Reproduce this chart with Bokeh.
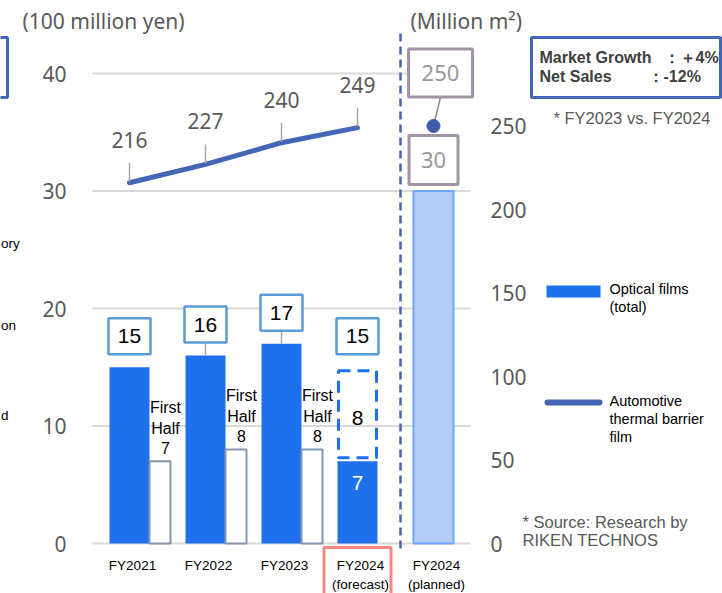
from bokeh.plotting import figure
from bokeh.models import Range1d, ColumnDataSource
from bokeh.core.properties import value
from bokeh.embed import file_html
from bokeh.resources import INLINE

# ---- data -------------------------------------------------------------
years = ["FY2021", "FY2022", "FY2023", "FY2024"]
x_labels = ["FY2021", "FY2022", "FY2023", "FY2024\n(forecast)", "FY2024\n(planned)"]
full_year_sales = [15, 16, 17, 15]          # 100 million yen
first_half_sales = [7, 8, 8]                # 100 million yen, FY2021-FY2023
forecast_first_half = 7                     # FY2024 H1 actual
forecast_second_half = 8                    # FY2024 H2 forecast
thermal_barrier = [216, 227, 240, 249]      # million m2
market_sales = 30                           # 100 million yen, FY2024 planned
market_area = 250                           # million m2, FY2024 planned
left_ticks = [0, 10, 20, 30, 40]
right_ticks = [0, 50, 100, 150, 200, 250]
leader_shown = [False, True, True, False]

# ---- layout helpers (pixel -> data) ----------------------------------
W, H = 722, 593
CAT0_PX, CAT_PX = 129.0, 76.0     # centre of first category, spacing
BASE_PX = 543.0                   # pixel row of the zero line
YEN_PX = 11.75                    # px per 1 (100 million yen)
AREA_PX = 83.5 / 50.0             # px per 1 million m2


def xd(px):
    return (px - CAT0_PX) / CAT_PX


def yl(py):
    return (BASE_PX - py) / YEN_PX


def yr(py):
    return (BASE_PX - py) / AREA_PX


def dl(px):
    return px / YEN_PX


def dr(px):
    return px / AREA_PX


BLUE = "#1f70ec"
LINE_BLUE = "#4466b6"
GRAY_TXT = "#595959"
SANS = value("Liberation Sans")
NUM = value("Noto Sans")

p = figure(width=W, height=H, x_range=Range1d(xd(0), xd(W)),
           y_range=Range1d(yl(H), yl(0)),
           x_axis_location=None, y_axis_location=None,
           toolbar_location=None, output_backend="svg", min_border=0)
p.extra_y_ranges = {"area": Range1d(yr(H), yr(0))}
p.grid.visible = False
p.outline_line_color = None
p.background_fill_color = "white"

n = len(years)
idx = list(range(n))

# grid lines
p.segment(x0=[-0.487] * len(left_ticks), x1=[4.487] * len(left_ticks),
          y0=left_ticks, y1=left_ticks, line_color="#d9d9d9", line_width=2)

# full-year bars FY2021-FY2023 and H1 actual of FY2024
full_src = ColumnDataSource(dict(x=idx[:3], top=full_year_sales[:3]))
p.vbar(x="x", top="top", bottom=0, width=40 / CAT_PX, source=full_src,
       fill_color=BLUE, line_color=None)
p.vbar(x=[3], top=[forecast_first_half], bottom=0, width=40 / CAT_PX,
       fill_color=BLUE, line_color=None)

# FY2024 H2 forecast (dashed outline)
gap = dl(3.5)
p.vbar(x=[3], bottom=[forecast_first_half + gap],
       top=[forecast_first_half + forecast_second_half - gap],
       width=38 / CAT_PX, fill_color=None, line_color=BLUE, line_width=3,
       line_dash="12 7")

# first-half bars
half_x = [i + 30.5 / CAT_PX for i in range(3)]
p.vbar(x=half_x, top=first_half_sales, bottom=0, width=21 / CAT_PX,
       fill_color="white", line_color="#8497b0", line_width=2)

# planned market bar
p.vbar(x=[4], top=[market_sales], bottom=0, width=40 / CAT_PX,
       fill_color="#b4cdf6", line_color="#6fa5f2", line_width=2)

# divider between company figures and market
p.segment(x0=[xd(400)], x1=[xd(400)], y0=[yl(548)], y1=[yl(32)],
          line_color=LINE_BLUE, line_width=2.5, line_dash="8 5")

# thermal barrier film line (right axis)
p.line(x=idx, y=thermal_barrier, y_range_name="area", line_color=LINE_BLUE,
       line_width=5, line_cap="round", line_join="round")
p.segment(x0=idx, x1=idx, y0=[v + dr(1) for v in thermal_barrier],
          y1=[v + dr(20) for v in thermal_barrier], y_range_name="area",
          line_color="#a6a6a6", line_width=1.5)
p.text(x=idx, y=[v + dr(43) for v in thermal_barrier],
       text=[str(v) for v in thermal_barrier], y_range_name="area",
       text_align="center", text_baseline="middle", text_font=NUM,
       text_font_size="21px", text_color=GRAY_TXT)

# value boxes for full-year sales
box_y = [v + dl(31) for v in full_year_sales]
lead_x = [i for i in idx if leader_shown[i]]
p.segment(x0=lead_x, x1=lead_x,
          y0=[full_year_sales[i] for i in lead_x],
          y1=[box_y[i] - dl(18) for i in lead_x],
          line_color="#a6a6a6", line_width=1.5)
p.rect(x=idx, y=box_y, width=42, height=36, width_units="screen",
       height_units="screen", fill_color="white", line_color="#5b9bd5",
       line_width=2.5)
p.text(x=idx, y=box_y, text=[str(v) for v in full_year_sales],
       text_align="center", text_baseline="middle", text_font=SANS,
       text_font_size="21px", text_color="black")

# first-half captions
p.text(x=[i + 36 / CAT_PX for i in range(3)],
       y=[v + dl(4) for v in first_half_sales],
       text=["First\nHalf\n%d" % v for v in first_half_sales],
       text_align="center", text_baseline="bottom", text_font=SANS,
       text_font_size="16px", text_line_height=1.22, text_color="black")

# FY2024 split labels
p.text(x=[3], y=[forecast_first_half - dl(22)], text=[str(forecast_first_half)],
       text_align="center", text_baseline="middle", text_font=SANS,
       text_font_size="21px", text_color="white")
p.text(x=[3], y=[forecast_first_half + forecast_second_half / 2 - dl(4)],
       text=[str(forecast_second_half)], text_align="center",
       text_baseline="middle", text_font=SANS, text_font_size="21px",
       text_color="black")

# market bar / point labels
MAUVE = "#a095a6"
mk_box_y = market_sales + dl(31)
p.rect(x=[4], y=[mk_box_y], width=49, height=49, width_units="screen",
       height_units="screen", fill_color="white", line_color=MAUVE,
       line_width=3)
p.text(x=[4], y=[mk_box_y], text=[str(market_sales)], text_align="center",
       text_baseline="middle", text_font=NUM, text_font_size="22px",
       text_color="#9a96a0")

area_box_x = 4 + 7 / CAT_PX
area_box_y = market_area + dr(53)
p.segment(x0=[4], x1=[area_box_x], y0=[market_area],
          y1=[area_box_y - dr(24)], y_range_name="area",
          line_color="#8c8c8c", line_width=1.5)
p.scatter(x=[4], y=[market_area], y_range_name="area", size=13,
          fill_color="#3f5cab", line_color="#3f5cab")
p.rect(x=[area_box_x], y=[area_box_y], width=64, height=48,
       width_units="screen", height_units="screen", y_range_name="area",
       fill_color="white", line_color=MAUVE, line_width=3)
p.text(x=[area_box_x], y=[area_box_y], text=[str(market_area)],
       y_range_name="area", text_align="center", text_baseline="middle",
       text_font=NUM, text_font_size="22px", text_color="#9a96a0")

# category labels and highlight
p.quad(left=[3 - 33.5 / CAT_PX], right=[3 + 33.5 / CAT_PX],
       top=[yl(547)], bottom=[yl(605)], fill_color=None,
       line_color="#ff8585", line_width=3)
p.text(x=[i + 3 / CAT_PX for i in range(len(x_labels))],
       y=[yl(557.5)] * len(x_labels), text=x_labels, text_align="center",
       text_baseline="top", text_font=SANS, text_font_size="13.5px",
       text_line_height=1.28, text_color="black")

# axis tick labels
p.text(x=[xd(66)] * len(left_ticks), y=left_ticks,
       text=[str(t) for t in left_ticks], text_align="right",
       text_baseline="middle", text_font=NUM, text_font_size="21px",
       text_color=GRAY_TXT)
p.text(x=[xd(490)] * len(right_ticks), y=right_ticks, y_range_name="area",
       text=[str(t) for t in right_ticks], text_align="left",
       text_baseline="middle", text_font=NUM, text_font_size="21px",
       text_color=GRAY_TXT)

# unit titles
p.text(x=[xd(22), xd(410)], y=[yl(20)] * 2,
       text=["(100 million yen)", "(Million m²)"], text_align="left",
       text_baseline="middle", text_font=NUM, text_font_size="21px",
       text_color=GRAY_TXT)

# growth summary box
p.quad(left=[xd(531)], right=[xd(720)], top=[yl(37)], bottom=[yl(97)],
       fill_color="white", line_color=LINE_BLUE, line_width=3)
p.text(x=[xd(539)] * 2, y=[yl(57), yl(76)],
       text=["Market Growth", "Net Sales"], text_align="left",
       text_baseline="middle", text_font=SANS, text_font_style="bold",
       text_font_size="16px", text_color="#404040")
p.text(x=[xd(663), xd(647)], y=[yl(57), yl(76)],
       text=["：＋4%", "：-12%"], text_align="left",
       text_baseline="middle", text_font=SANS, text_font_style="bold",
       text_font_size="16px", text_color="#404040")

# notes
p.text(x=[xd(553)], y=[yl(117)], text=["* FY2023 vs. FY2024"],
       text_align="left", text_baseline="middle", text_font=SANS,
       text_font_size="16.5px", text_color=GRAY_TXT)
p.text(x=[xd(522)], y=[yl(512)], text=["* Source: Research by\nRIKEN TECHNOS"],
       text_align="left", text_baseline="top", text_font=SANS,
       text_font_size="16.5px", text_line_height=1.0, text_color=GRAY_TXT)

# legend
p.quad(left=[xd(546)], right=[xd(600)], top=[yl(285)], bottom=[yl(297)],
       fill_color=BLUE, line_color=None)
p.segment(x0=[xd(547)], x1=[xd(599)], y0=[yl(402)], y1=[yl(402)],
          line_color=LINE_BLUE, line_width=6, line_cap="round")
p.text(x=[xd(609)] * 2, y=[yl(280), yl(392)],
       text=["Optical films\n(total)", "Automotive\nthermal barrier\nfilm"],
       text_align="left", text_baseline="top", text_font=SANS,
       text_font_size="14.5px", text_line_height=1.15, text_color="black")

# side notes at the left edge
p.quad(left=[xd(-20)], right=[xd(7)], top=[yl(37)], bottom=[yl(97)],
       fill_color=None, line_color=LINE_BLUE, line_width=3)
p.text(x=[xd(0.5)] * 3, y=[yl(243), yl(325), yl(415)],
       text=["ory", "on", "d"], text_align="left", text_baseline="middle",
       text_font=SANS, text_font_size="13.5px", text_color="black")

open("out.html", "w").write(file_html(p, INLINE))
